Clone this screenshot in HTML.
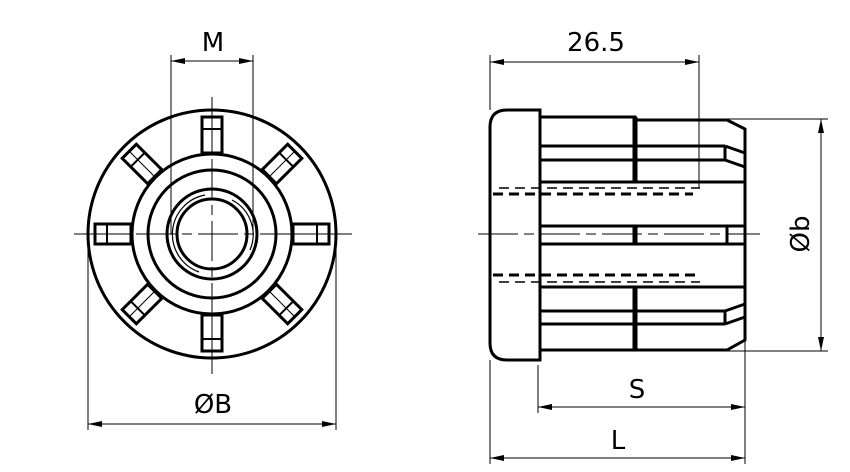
<!DOCTYPE html>
<html><head><style>html,body{margin:0;padding:0;background:#fff}svg{display:block}</style></head><body>
<svg width="850" height="472" viewBox="0 0 850 472" xmlns="http://www.w3.org/2000/svg">
<defs>
<marker id="a" viewBox="0 0 14 6" refX="14" refY="3" markerWidth="14" markerHeight="6" orient="auto-start-reverse" markerUnits="userSpaceOnUse"><path d="M0,0 L14,3 L0,6 Z" fill="#000"/></marker>
<g id="slot"><rect x="-10" y="-117" width="20" height="36" fill="#fff" stroke="#000" stroke-width="3"/><line x1="0" y1="-117" x2="0" y2="-81" stroke="#000" stroke-width="1"/><line x1="-10" y1="-105" x2="10" y2="-105" stroke="#000" stroke-width="2"/></g>
</defs>
<g font-family="'DejaVu Sans', 'Liberation Sans', sans-serif" font-size="26" text-anchor="middle" fill="#000">
<text x="213" y="51">M</text>
<text x="596" y="51">26.5</text>
<text x="213" y="413">ØB</text>
<text x="637" y="398">S</text>
<text x="618" y="449">L</text>
<text x="0" y="0" transform="translate(809,234) rotate(-90)">Øb</text>
</g>
<!-- left view -->
<g stroke="#000" fill="none">
<circle cx="212" cy="234" r="124" stroke-width="3"/>
<circle cx="212" cy="234" r="80" stroke-width="3"/>
<circle cx="212" cy="234" r="64" stroke-width="3"/>
<circle cx="212" cy="234" r="35" stroke-width="3"/>
<circle cx="212" cy="234" r="45" stroke-width="3"/>
<path d="M205,195 A40,40 0 0 0 199,272" stroke-width="1.2"/>
<path d="M250,250 A39,39 0 0 0 232,200" stroke-width="1.2"/>
</g>
<g transform="translate(212,234)">
<use href="#slot"/>
<use href="#slot" transform="rotate(45)"/>
<use href="#slot" transform="rotate(90)"/>
<use href="#slot" transform="rotate(135)"/>
<use href="#slot" transform="rotate(180)"/>
<use href="#slot" transform="rotate(225)"/>
<use href="#slot" transform="rotate(270)"/>
<use href="#slot" transform="rotate(315)"/>
</g>
<g stroke="#000" stroke-width="1" fill="none">
<line x1="74" y1="234" x2="352" y2="234" stroke-dasharray="40,6,10,6"/>
<line x1="212" y1="97" x2="212" y2="374" stroke-dasharray="40,6,10,6"/>
<line x1="171" y1="55" x2="171" y2="234"/>
<line x1="253" y1="55" x2="253" y2="234"/>
<line x1="171" y1="61" x2="253" y2="61" marker-start="url(#a)" marker-end="url(#a)"/>
<line x1="88" y1="234" x2="88" y2="430"/>
<line x1="336" y1="234" x2="336" y2="430"/>
<line x1="88" y1="424" x2="336" y2="424" marker-start="url(#a)" marker-end="url(#a)"/>
</g>
<!-- right view -->
<g stroke="#000" stroke-width="3" fill="#fff">
<path d="M540,117 L635,117 L635,120 L727,120 L745,129 L745,340 L727,350 L635,350 L635,350 L540,350 Z"/>
<path d="M540,110 L507,110 Q490,110 490,127 L490,343 Q490,360 507,360 L540,360 Z"/>
</g>
<g stroke="#000" stroke-width="3" fill="none">
<line x1="540" y1="146" x2="725" y2="146"/>
<line x1="540" y1="160" x2="725" y2="160"/>
<path d="M725,146 L745,153 M725,160 L745,167 M725,146 L725,160"/>
<line x1="540" y1="182" x2="745" y2="182"/>
<line x1="540" y1="226" x2="745" y2="226"/>
<line x1="540" y1="244" x2="745" y2="244"/>
<line x1="727" y1="226" x2="727" y2="244"/>
<line x1="540" y1="287" x2="745" y2="287"/>
<line x1="540" y1="311" x2="725" y2="311"/>
<line x1="540" y1="324" x2="725" y2="324"/>
<path d="M725,311 L745,304 M725,324 L745,317 M725,311 L725,324"/>
<line x1="635" y1="117" x2="635" y2="182" stroke-width="5"/>
<line x1="635" y1="287" x2="635" y2="350" stroke-width="5"/>
<line x1="635" y1="226" x2="635" y2="244" stroke-width="5"/>
<line x1="493" y1="194" x2="693" y2="194" stroke-dasharray="10,6"/>
<line x1="493" y1="275" x2="700" y2="275" stroke-dasharray="10,6"/>
</g>
<g stroke="#000" stroke-width="1.5" fill="none">
<line x1="499" y1="188" x2="700" y2="188" stroke-dasharray="10,6"/>
<line x1="499" y1="282" x2="700" y2="282" stroke-dasharray="10,6"/>
</g>
<g stroke="#000" stroke-width="1" fill="none">
<line x1="478" y1="234" x2="760" y2="234" stroke-dasharray="40,6,10,6"/>
<line x1="490" y1="55" x2="490" y2="110"/>
<line x1="699" y1="55" x2="699" y2="188"/>
<line x1="490" y1="62" x2="699" y2="62" marker-start="url(#a)" marker-end="url(#a)"/>
<line x1="727" y1="119" x2="828" y2="119"/>
<line x1="727" y1="351" x2="828" y2="351"/>
<line x1="821" y1="119" x2="821" y2="351" marker-start="url(#a)" marker-end="url(#a)"/>
<line x1="538" y1="365" x2="538" y2="413"/>
<line x1="745" y1="340" x2="745" y2="464"/>
<line x1="490" y1="360" x2="490" y2="464"/>
<line x1="538" y1="407" x2="745" y2="407" marker-start="url(#a)" marker-end="url(#a)"/>
<line x1="490" y1="458" x2="745" y2="458" marker-start="url(#a)" marker-end="url(#a)"/>
</g>
</svg>
</body></html>
